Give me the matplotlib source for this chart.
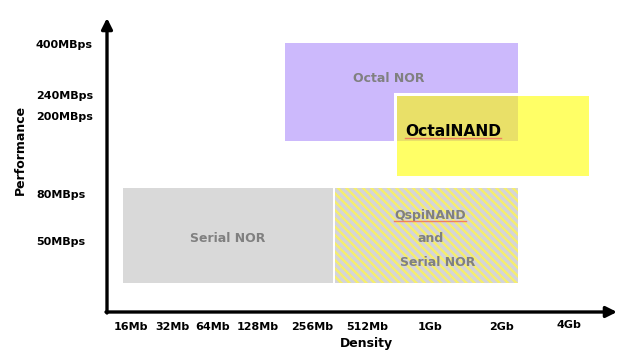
import matplotlib
matplotlib.use("Agg")
import matplotlib.pyplot as plt
from matplotlib.patches import Rectangle

# axis ticks (positions in drawing units along each axis)
density_labels = ["16Mb", "32Mb", "64Mb", "128Mb", "256Mb", "512Mb", "1Gb", "2Gb", "4Gb"]
density_pos = [131, 172, 213, 258, 312, 367, 430, 502, 569]
perf_labels = ["400MBps", "240MBps", "200MBps", "80MBps", "50MBps"]
perf_pos = [45, 96, 117, 195, 242]

# regions: name, x0, x1, y_top, y_bottom
serial_nor = ("Serial NOR", 123, 333, 188, 283)
qspi = ("QspiNAND\n\nand\n\nSerial NOR", 335, 518, 188, 283)
octal_nor = ("Octal NOR", 285, 518, 43, 141)
octal_nand = ("OctalNAND", 397, 589, 96, 176)

GRAY_TXT = "#808080"

fig = plt.figure(figsize=(6.24, 3.57), dpi=100)
ax = fig.add_axes([0, 0, 1, 1])
ax.set_xlim(0, 624)
ax.set_ylim(357, 0)
ax.axis("off")


def box(reg, pad=0, **kw):
    name, x0, x1, y0, y1 = reg
    r = Rectangle((x0 - pad, y0 - pad), x1 - x0 + 2 * pad, y1 - y0 + 2 * pad, **kw)
    ax.add_patch(r)
    return r


def squiggle(t):
    # the red spell-check underline seen under some words
    fig.canvas.draw()
    bb = t.get_window_extent().transformed(ax.transData.inverted())
    x0, x1 = bb.x0, bb.x1
    y = max(bb.y0, bb.y1) - 1
    ax.plot([x0, x1], [y, y], color="#F08060", lw=1.0, zorder=6)


# purple Octal NOR
box(octal_nor, facecolor="#CCB9FC", edgecolor="none", zorder=1)
ax.text((octal_nor[1] + octal_nor[2]) / 2 - 13, 78, octal_nor[0], color=GRAY_TXT,
        fontsize=9, fontweight="bold", ha="center", va="center", zorder=5)

# yellow OctalNAND with white rim
box(octal_nand, pad=3.5, facecolor="white", edgecolor="none", zorder=2)
box(octal_nand, facecolor="#FFFF66", edgecolor="none", zorder=2)
# overlap of the two
ov = ("", octal_nand[1], octal_nor[2], octal_nand[3], octal_nor[4])
box(ov, facecolor="#E9E068", edgecolor="none", zorder=3)
t_nand = ax.text(405, 131, octal_nand[0], color="black", fontsize=11.2, fontweight="bold",
                 ha="left", va="center", zorder=5)

# gray Serial NOR
box(serial_nor, facecolor="#D9D9D9", edgecolor="none", zorder=1)
ax.text((serial_nor[1] + serial_nor[2]) / 2, 238, serial_nor[0], color=GRAY_TXT,
        fontsize=9, fontweight="bold", ha="center", va="center", zorder=5)

# hatched QspiNAND / Serial NOR
plt.rcParams["hatch.linewidth"] = 1.8
plt.rcParams["hatch.color"] = "#F5EE6E"
box(qspi, facecolor="#D4D4DA", edgecolor="#F5EE6E", linewidth=0, hatch="\\\\\\\\", zorder=1)
qtexts = []
for txt, yy, dx in [("QspiNAND", 215, -2), ("and", 238, -1), ("Serial NOR", 263, 6)]:
    qtexts.append(ax.text(432 + dx, yy, txt, color=GRAY_TXT, fontsize=9, fontweight="bold",
                          ha="center", va="center", zorder=5))

# axes arrows
ax.annotate("", xy=(107, 18), xytext=(107, 313),
            arrowprops=dict(arrowstyle="-|>", lw=2.4, color="black", mutation_scale=16,
                            shrinkA=0, shrinkB=0), zorder=6)
ax.annotate("", xy=(617, 312), xytext=(106, 312),
            arrowprops=dict(arrowstyle="-|>", lw=2.4, color="black", mutation_scale=16,
                            shrinkA=0, shrinkB=0), zorder=6)

for lab, y in zip(perf_labels, perf_pos):
    ax.text(36, y, lab, fontsize=8, fontweight="bold", ha="left", va="center")
for lab, x in zip(density_labels, density_pos):
    yy = 325 if lab == "4Gb" else 327
    ax.text(x, yy, lab, fontsize=8, fontweight="bold", ha="center", va="center")

ax.text(20, 150, "Performance", fontsize=9, fontweight="bold", rotation=90,
        ha="center", va="center")
ax.text(366, 343, "Density", fontsize=9, fontweight="bold", ha="center", va="center")

squiggle(t_nand)
squiggle(qtexts[0])

fig.savefig("out.png", dpi=100)
